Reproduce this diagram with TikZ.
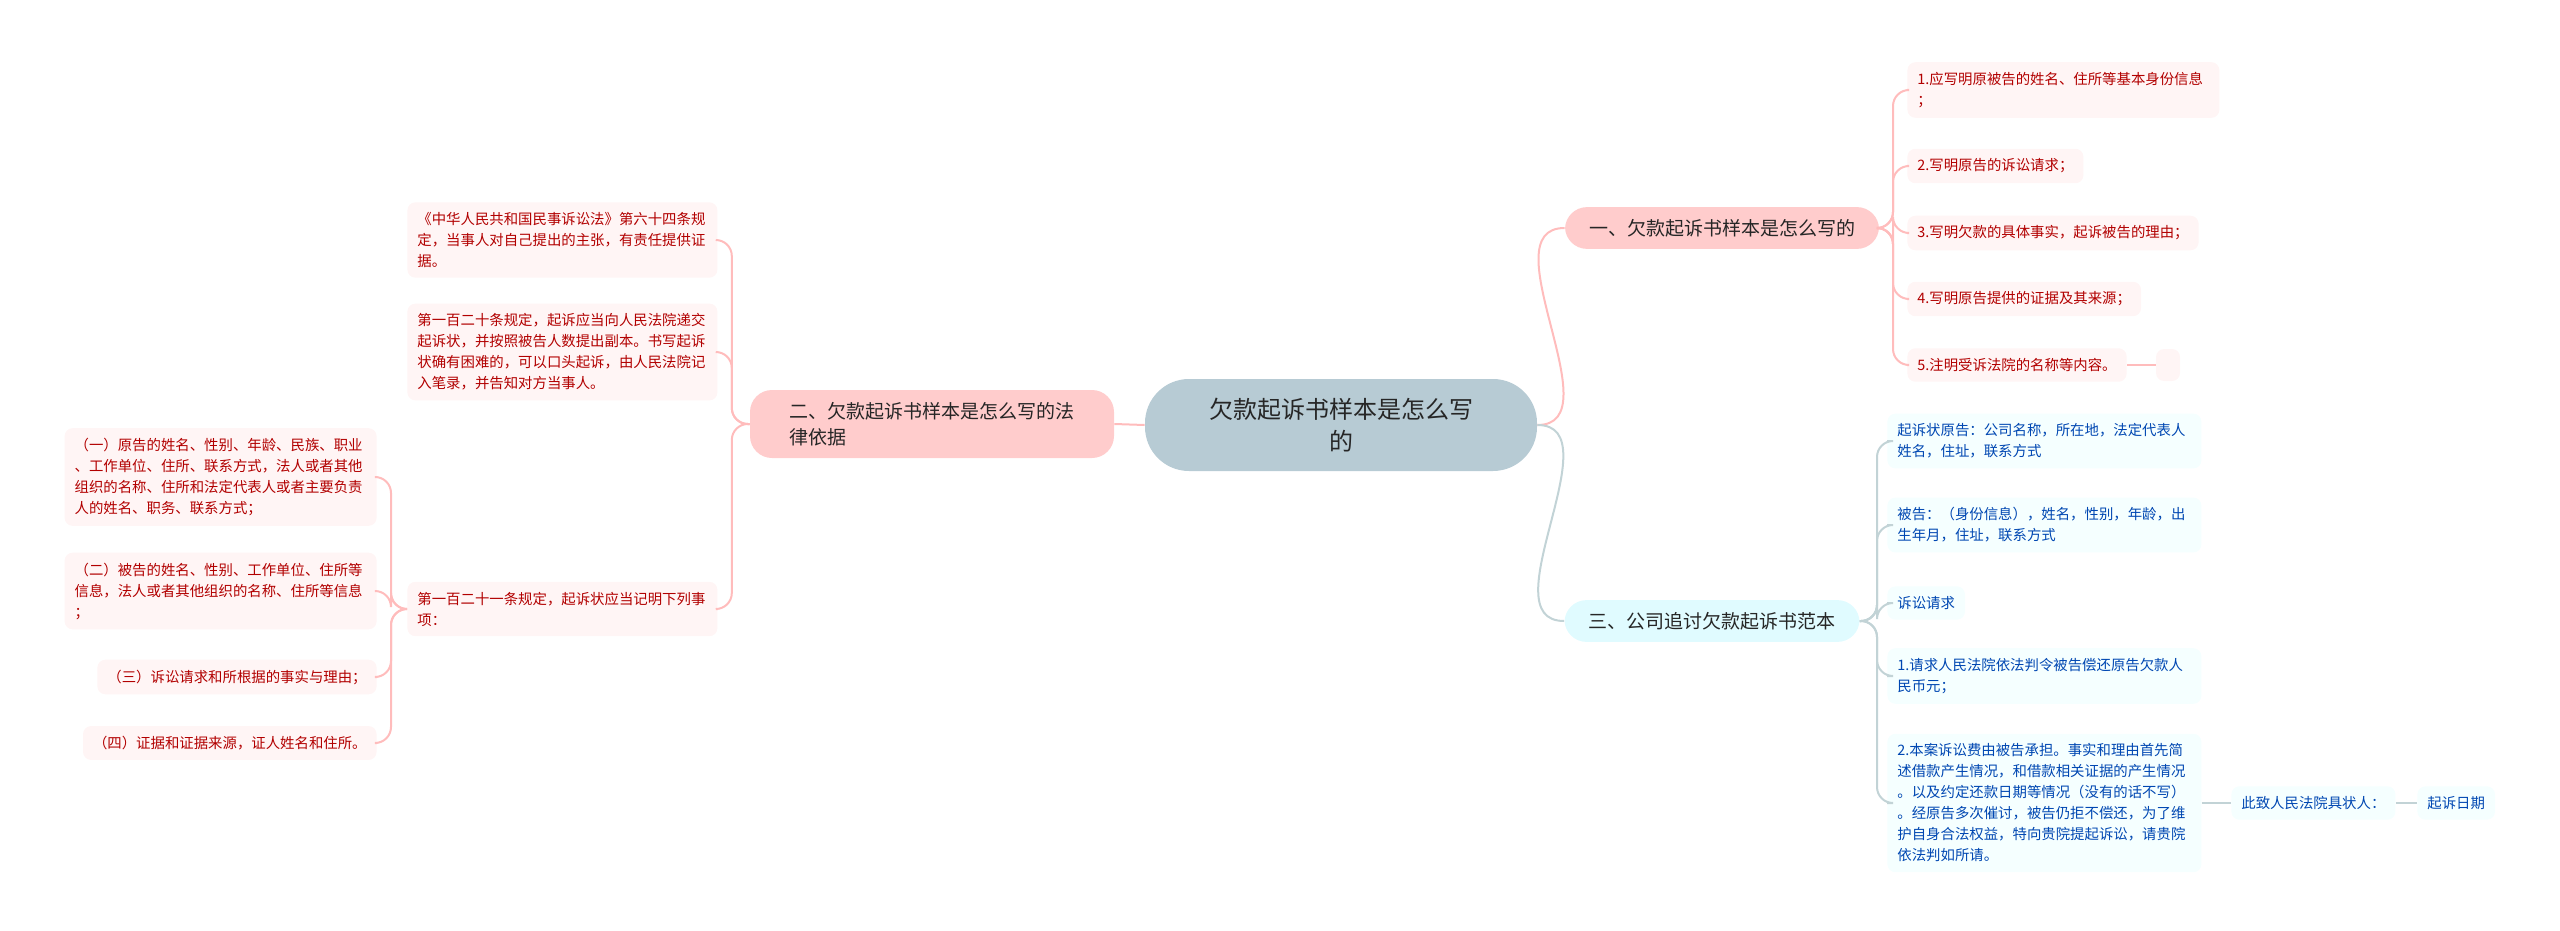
\documentclass[tikz,border=0pt]{standalone}
\usepackage{fontspec}
\setmainfont{Noto Sans CJK SC}
\begin{document}
\begin{tikzpicture}[x=0.5pt,y=-0.5pt,
 redline/.style={draw=red!25!pink!60,line width=1pt,rounded corners=8pt},
 blueline/.style={draw=blue!15!cyan!20!gray!40,line width=1pt,rounded corners=8pt},
 rleaf/.style={fill=red!4,rounded corners=4pt,text=red!70!black,font=\fontsize{7.2}{10.5}\selectfont,align=left,inner xsep=5pt,inner ysep=5pt,anchor=west},
 bleaf/.style={fill=blue!3!cyan!4,rounded corners=4pt,text=blue!60!cyan!70!black,font=\fontsize{7.2}{10.5}\selectfont,align=left,inner xsep=5pt,inner ysep=5pt,anchor=west},
 rbranch/.style={fill=red!20,rounded corners=11pt,text=black!85,font=\fontsize{9.5}{13}\selectfont,align=left,inner xsep=12pt,inner ysep=6pt},
 bbranch/.style={fill=blue!12!cyan!12!white,rounded corners=11pt,text=black!85,font=\fontsize{9.5}{13}\selectfont,align=left,inner xsep=12pt,inner ysep=6pt}]
\useasboundingbox (0,0) rectangle (2560,931);
\node[fill=blue!30!cyan!25!gray!45,rounded corners=22pt,font=\fontsize{12}{16}\selectfont,align=center,minimum width=196pt,minimum height=46pt,text=black!85] (c) at (1341,425) {欠款起诉书样本是怎么写\\的};
\node[rbranch] (b1) at (1722,228) {一、欠款起诉书样本是怎么写的};
\node[rbranch,minimum width=182pt,minimum height=34pt] (b2) at (932,424) {二、欠款起诉书样本是怎么写的法\\律依据};
\node[bbranch] (b3) at (1712,621) {三、公司追讨欠款起诉书范本};
% branch 1 leaves
\node[rleaf,text width=146pt] (r1) at (1907,90) {1.应写明原被告的姓名、住所等基本身份信息\\；};
\node[rleaf] (r2) at (1907,166) {2.写明原告的诉讼请求；};
\node[rleaf] (r3) at (1907,233) {3.写明欠款的具体事实，起诉被告的理由；};
\node[rleaf] (r4) at (1907,299) {4.写明原告提供的证据及其来源；};
\node[rleaf] (r5) at (1907,365) {5.注明受诉法院的名称等内容。};
\node[fill=red!4,rounded corners=4pt,minimum width=12pt,minimum height=16pt,inner sep=0pt] (r6) at (2168,365) {};
% branch 2 leaves
\node[rleaf,text width=145pt] (l1) at (407,240) {《中华人民共和国民事诉讼法》第六十四条规\\定，当事人对自己提出的主张，有责任提供证\\据。};
\node[rleaf,text width=145pt] (l2) at (407,352) {第一百二十条规定，起诉应当向人民法院递交\\起诉状，并按照被告人数提出副本。书写起诉\\状确有困难的，可以口头起诉，由人民法院记\\入笔录，并告知对方当事人。};
\node[rleaf,text width=145pt] (l3) at (407,609) {第一百二十一条规定，起诉状应当记明下列事\\项：};
\node[rleaf,anchor=east,text width=146pt] (s1) at (377,477) {（一）原告的姓名、性别、年龄、民族、职业\\、工作单位、住所、联系方式，法人或者其他\\组织的名称、住所和法定代表人或者主要负责\\人的姓名、职务、联系方式；};
\node[rleaf,anchor=east,text width=146pt] (s2) at (377,591) {（二）被告的姓名、性别、工作单位、住所等\\信息，法人或者其他组织的名称、住所等信息\\；};
\node[rleaf,anchor=east] (s3) at (377,677) {（三）诉讼请求和所根据的事实与理由；};
\node[rleaf,anchor=east] (s4) at (377,743) {（四）证据和证据来源，证人姓名和住所。};
% branch 3 leaves
\node[bleaf,text width=147pt] (q1) at (1887,441) {起诉状原告：公司名称，所在地，法定代表人\\姓名，住址，联系方式};
\node[bleaf,text width=147pt] (q2) at (1887,525) {被告：（身份信息），姓名，性别，年龄，出\\生年月，住址，联系方式};
\node[bleaf] (q3) at (1887,603) {诉讼请求};
\node[bleaf,text width=147pt] (q4) at (1887,676) {1.请求人民法院依法判令被告偿还原告欠款人\\民币元；};
\node[bleaf,text width=147pt] (q5) at (1887,803) {2.本案诉讼费由被告承担。事实和理由首先简\\述借款产生情况，和借款相关证据的产生情况\\。以及约定还款日期等情况（没有的话不写）\\。经原告多次催讨，被告仍拒不偿还，为了维\\护自身合法权益，特向贵院提起诉讼，请贵院\\依法判如所请。};
\node[bleaf] (q6) at (2231,803) {此致人民法院具状人：};
\node[bleaf] (q7) at (2417,803) {起诉日期};
% connectors
\draw[redline] (c.east) to[out=0,in=180] (b1.west);
\draw[redline] (c.west) -- (b2.east);
\draw[blueline] (c.east) to[out=0,in=180] (b3.west);
\foreach \n in {r1,r2,r3,r4,r5}{\draw[redline] (b1.east) -| ([xshift=-7pt]\n.west) -- (\n.west);}
\draw[redline] (r5.east) -- (r6.west);
\foreach \n in {l1,l2,l3}{\draw[redline] (b2.west) -| ([xshift=7pt]\n.east) -- (\n.east);}
\foreach \n in {s1,s2,s3,s4}{\draw[redline] (l3.west) -| ([xshift=7pt]\n.east) -- (\n.east);}
\foreach \n in {q1,q2,q3,q4,q5}{\draw[blueline] (b3.east) -| ([xshift=-5pt]\n.west) -- (\n.west);}
\draw[blueline] (q5.east) -- (q6.west);
\draw[blueline] (q6.east) -- (q7.west);
\end{tikzpicture}
\end{document}
